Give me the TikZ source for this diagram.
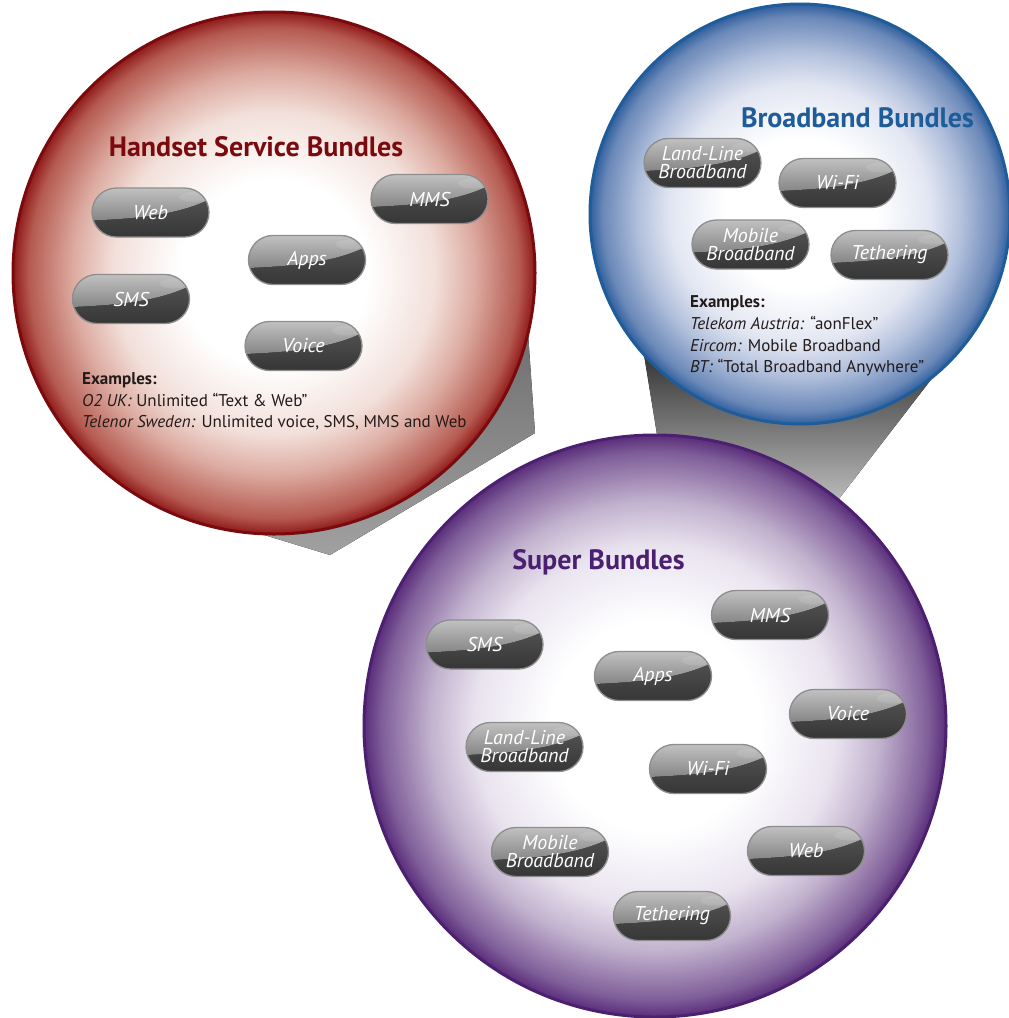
\documentclass[tikz,border=0pt]{standalone}
\usepackage{fontspec}
\setmainfont{PT Sans}
\usetikzlibrary{calc}

% palette
\definecolor{handsetred}{HTML}{7A0A0E}
\definecolor{broadblue}{HTML}{1E5C9A}
\definecolor{superpurple}{HTML}{4B2070}
\definecolor{redA}{HTML}{F2DFD9}
\definecolor{redB}{HTML}{DCAAA0}
\definecolor{redC}{HTML}{B55A50}
\definecolor{redD}{HTML}{8F1A1A}
\definecolor{blueA}{HTML}{E2E6F2}
\definecolor{blueB}{HTML}{B2C0DC}
\definecolor{blueC}{HTML}{6A88B8}
\definecolor{blueD}{HTML}{2F5F9E}
\definecolor{purA}{HTML}{E9E3EF}
\definecolor{purB}{HTML}{C2B2CE}
\definecolor{purC}{HTML}{7F5E99}
\definecolor{purD}{HTML}{5A2D7A}
\definecolor{pilltop}{HTML}{585858}
\definecolor{pillbot}{HTML}{363636}
\definecolor{glosstop}{HTML}{C6C6C6}
\definecolor{glossbot}{HTML}{686868}
\definecolor{pillrim}{HTML}{8E8E8E}
\definecolor{bodytext}{HTML}{231A1A}

% soft glows for the three bubbles (25bp = rim)
\pgfdeclareradialshading{redglow}{\pgfpoint{0bp}{0bp}}{%
  color(0bp)=(white); color(9bp)=(white); color(15.5bp)=(redA);
  color(19.3bp)=(redB); color(23.5bp)=(redC); color(25bp)=(redD); color(50bp)=(redD)}
\pgfdeclareradialshading{blueglow}{\pgfpoint{0bp}{0bp}}{%
  color(0bp)=(white); color(9bp)=(white); color(15.5bp)=(blueA);
  color(19.3bp)=(blueB); color(23.5bp)=(blueC); color(25bp)=(blueD); color(50bp)=(blueD)}
\pgfdeclareradialshading{purpleglow}{\pgfpoint{0bp}{0bp}}{%
  color(0bp)=(white); color(9bp)=(white); color(15.5bp)=(purA);
  color(19.3bp)=(purB); color(23.5bp)=(purC); color(25bp)=(purD); color(50bp)=(purD)}

\newcommand\pillfont{\itshape\fontsize{20}{18}\selectfont}
\newcommand\titlefont{\bfseries\fontsize{28}{32}\selectfont}
\newcommand\examplefont{\fontsize{17}{20}\selectfont}

\tikzset{
  pill/.style={rectangle, rounded corners=24.5pt, minimum width=117pt,
    minimum height=49pt, inner sep=0pt, draw=pillrim, line width=1.3pt,
    top color=pilltop, bottom color=pillbot, text=white, align=center,
    font=\pillfont,
    path picture={
      \fill[sharp corners, top color=glosstop, bottom color=glossbot]
        ([yshift=3pt]path picture bounding box.north west)
        -- ([yshift=-8pt]path picture bounding box.west)
        .. controls ([xshift=-15pt,yshift=-6pt]path picture bounding box.center)
        and ([xshift=25pt,yshift=-3pt]path picture bounding box.center)
        .. ([yshift=13pt]path picture bounding box.east)
        -- ([yshift=3pt]path picture bounding box.north east) -- cycle;
      \fill[sharp corners, white, opacity=0.10]
        ([xshift=-15pt,yshift=-9pt]path picture bounding box.north east)
        ellipse [x radius=15pt, y radius=5pt];
    }},
  title/.style={font=\titlefont, inner sep=0pt},
  example/.style={font=\examplefont, text=bodytext, anchor=base west, inner sep=0pt},
  rim/.style={line width=3pt}
}

\begin{document}
\begin{tikzpicture}[x=1pt, y=-1pt]
\useasboundingbox (0,0) rectangle (1009,1018);

% cast shadows
\fill[top color=black!60, bottom color=black!37]
  (525,290) -- (535,433) -- (330,555) -- (215,520) -- cycle;
\fill[top color=black!88, middle color=black!70, bottom color=black!18]
  (640,330) -- (662,465) -- (760,525) -- (838,500) -- (950,355) -- cycle;

% bubbles
\shadedraw[shading=redglow, draw=handsetred, rim] (274,273) circle[radius=261];
\shadedraw[shading=blueglow, draw=broadblue, rim] (800,214) circle[radius=210];
\shadedraw[shading=purpleglow, draw=superpurple, rim] (655,726) circle[radius=291];

% handset service bundles
\node[title, text=handsetred] (h-title) at (256,147) {Handset Service Bundles};
\node[pill] (h-web)   at (150.5,212.5) {Web};
\node[pill] (h-mms)   at (429.5,199)   {MMS};
\node[pill] (h-apps)  at (307,260)     {Apps};
\node[pill] (h-sms)   at (131,299)     {SMS};
\node[pill] (h-voice) at (303.5,346)   {Voice};
\node[example] (h-ex)  at (82,384) {\bfseries Examples:};
\node[example] (h-ex1) at (82,406) {\textit{O2 UK:} Unlimited “Text \& Web”};
\node[example] (h-ex2) at (82,427) {\textit{Telenor Sweden:} Unlimited voice, SMS, MMS and Web};

% broadband bundles
\node[title, text=broadblue] (b-title) at (857.5,118) {Broadband Bundles};
\node[pill] (b-land)   at (702.5,163) {Land-Line\\Broadband};
\node[pill] (b-wifi)   at (837.5,183) {Wi-Fi};
\node[pill] (b-mobile) at (750.5,244.5) {Mobile\\Broadband};
\node[pill] (b-tether) at (889.5,255) {Tethering};
\node[example] (b-ex)  at (690,307) {\bfseries Examples:};
\node[example] (b-ex1) at (690,329) {\textit{Telekom Austria:} “aonFlex”};
\node[example] (b-ex2) at (690,351) {\textit{Eircom:} Mobile Broadband};
\node[example] (b-ex3) at (690,372) {\textit{BT:} “Total Broadband Anywhere”};

% super bundles
\node[title, text=superpurple] (s-title) at (598.5,562) {Super Bundles};
\node[pill] (s-sms)    at (484.5,644.5) {SMS};
\node[pill] (s-mms)    at (770,615)     {MMS};
\node[pill] (s-apps)   at (653,676)     {Apps};
\node[pill] (s-voice)  at (848,714)     {Voice};
\node[pill] (s-land)   at (524.5,747)   {Land-Line\\Broadband};
\node[pill] (s-wifi)   at (708,769)     {Wi-Fi};
\node[pill] (s-mobile) at (550,852)     {Mobile\\Broadband};
\node[pill] (s-web)    at (806,851)     {Web};
\node[pill] (s-tether) at (672,916)     {Tethering};
\end{tikzpicture}
\end{document}
